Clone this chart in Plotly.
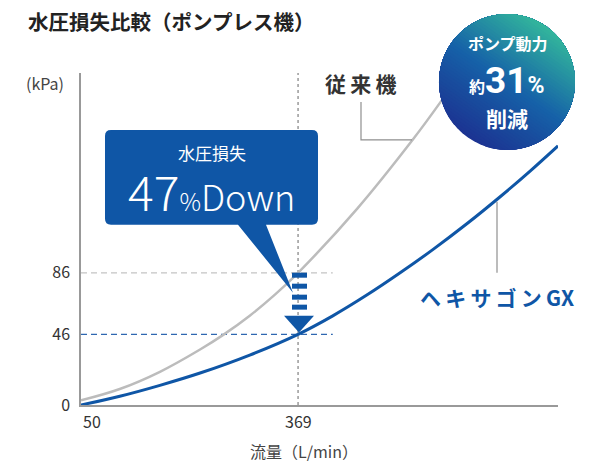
import math

import plotly.graph_objects as go

# flow (L/min) vs pressure loss (kPa)
FLOW_CONV = [50, 107, 166, 225, 259, 298, 335, 369, 456, 538, 578, 622]
LOSS_CONV = [3.0, 10.4, 21.6, 36.1, 45.6, 58.1, 71.8, 86.0, 127.8, 172.9, 196.9, 225.0]
FLOW_GX = [50, 107, 166, 225, 298, 369, 420, 470, 519, 567, 617, 666, 710, 751]
LOSS_GX = [0.0, 5.7, 12.8, 20.8, 32.5, 46.0, 58.0, 71.5, 86.0, 101.1, 117.9, 135.5, 152.2, 168.6]

X_TICKS = [50, 369]
Y_TICKS = [0, 46, 86]
RATED_FLOW = 369
LOSS_OLD = 86
LOSS_NEW = 46

BLUE = "#0f56a6"
GRAY = "#bcbcbc"
FONT = "Noto Sans CJK JP"

# plot area in pixels (600x470 canvas)
L, R, T, B = 81, 558, 73, 405.5


def px(x):
    return (x - L) / (R - L)


def py(y):
    return (B - y) / (B - T)


def path(points, close=True):
    # points: list of (cmd, [(x, y), ...]); L is repeated for every point
    parts = []
    for cmd, pts in points:
        if cmd == "Q":
            parts.append("Q " + " ".join(f"{px(a):.5f},{py(b):.5f}" for a, b in pts))
        else:
            for a, b in pts:
                parts.append(f"{cmd} {px(a):.5f},{py(b):.5f}")
    return " ".join(parts) + (" Z" if close else "")


fig = go.Figure()
fig.add_trace(go.Scatter(
    x=FLOW_CONV, y=LOSS_CONV, mode="lines",
    line=dict(color=GRAY, width=2.5, shape="spline"), hoverinfo="skip",
))
fig.add_trace(go.Scatter(
    x=FLOW_GX, y=LOSS_GX, mode="lines",
    line=dict(color=BLUE, width=3, shape="spline"), hoverinfo="skip",
))

shapes = []
shapes.append(dict(type="line", xref="x", yref="y", x0=RATED_FLOW, x1=RATED_FLOW, y0=0, y1=216,
                   line=dict(color="#9a9a9a", width=1.5, dash="dot"), layer="below"))
shapes.append(dict(type="line", xref="x", yref="y", x0=50, x1=420, y0=LOSS_OLD, y1=LOSS_OLD,
                   line=dict(color="#c4c4c4", width=1.3, dash="6px,4px"), layer="below"))
shapes.append(dict(type="line", xref="x", yref="y", x0=50, x1=420, y0=LOSS_NEW, y1=LOSS_NEW,
                   line=dict(color="#2f67b0", width=1.3, dash="6px,4px"), layer="below"))

# leader lines
shapes.append(dict(type="path", xref="paper", yref="paper",
                   path=path([("M", [(361, 102)]), ("L", [(361, 140), (412, 140)])], close=False),
                   line=dict(color="#8f8f8f", width=1.2)))
shapes.append(dict(type="path", xref="paper", yref="paper",
                   path=path([("M", [(497, 202)]), ("L", [(497, 273)])], close=False),
                   line=dict(color="#8f8f8f", width=1.2)))

# callout box with pointer
box = [
    ("M", [(111, 130)]), ("L", [(312, 130)]), ("Q", [(318, 130), (318, 136)]),
    ("L", [(318, 219)]), ("Q", [(318, 225), (312, 225)]),
    ("L", [(266, 225), (293, 293), (238, 225), (111, 225)]),
    ("Q", [(105, 225), (105, 219)]), ("L", [(105, 136)]), ("Q", [(105, 130), (111, 130)]),
]
shapes.append(dict(type="path", xref="paper", yref="paper", path=path(box),
                   fillcolor=BLUE, line=dict(width=0), layer="above"))

# striped down arrow
for y0, y1 in [(273, 278), (284, 289), (295, 300), (305, 310)]:
    shapes.append(dict(type="rect", xref="paper", yref="paper",
                       x0=px(292), x1=px(307), y0=py(y1), y1=py(y0),
                       fillcolor=BLUE, line=dict(width=0), layer="above"))
shapes.append(dict(type="path", xref="paper", yref="paper",
                   path=path([("M", [(284, 316)]), ("L", [(314, 316), (299, 333)])]),
                   fillcolor=BLUE, line=dict(width=0), layer="above"))

# gradient circle, built from stacked circular segments
cx, cy, r = 507, 82, 68
theta = math.radians(55)
stops = [(0.0, (28, 52, 146)), (0.5, (22, 98, 168)), (1.0, (50, 180, 156))]


def blend(f):
    for (f0, c0), (f1, c1) in zip(stops, stops[1:]):
        if f <= f1:
            k = (f - f0) / (f1 - f0)
            return "rgb({},{},{})".format(*[round(a + (b - a) * k) for a, b in zip(c0, c1)])
    return "rgb({},{},{})".format(*stops[-1][1])


n = 48
for k in range(n):
    t = -r + 2 * r * k / n
    alpha = math.acos(max(-1.0, min(1.0, t / r)))
    pts = []
    for j in range(61):
        phi = theta - alpha + 2 * alpha * j / 60
        pts.append((cx + r * math.cos(phi), cy - r * math.sin(phi)))
    shapes.append(dict(type="path", xref="paper", yref="paper",
                       path=path([("M", pts[:1]), ("L", pts[1:])]),
                       fillcolor=blend(k / (n - 1)), line=dict(width=0), layer="above"))

annotations = []


def text(x, y, s, size, color="#333", xanchor="center", yanchor="middle", bold=False,
         weight=None, family=FONT):
    font = dict(family=family, size=size, color=color)
    if weight:
        font["weight"] = weight
    annotations.append(dict(
        x=px(x), y=py(y), xref="paper", yref="paper", text=f"<b>{s}</b>" if bold else s,
        showarrow=False, xanchor=xanchor, yanchor=yanchor, font=font,
    ))


text(26, 21, "水圧損失比較（ポンプレス機）", 20.5, "#222", xanchor="left", bold=True)
text(24, 83, "(kPa)", 16, "#444", xanchor="left")
text(360, 83, "従\u2009来\u2009機", 21, "#333", bold=True)
text(497, 297, "ヘ\u2009キ\u2009サ\u2009ゴ\u2009ン\u2009GX", 21, BLUE, bold=True)
text(304, 452, "流量（L/min）", 16, "#444")
text(212, 153, "水圧損失", 17, "white")
text(211, 190,
     '<span style="font-size:48px">47</span><span style="font-size:24px">%</span>'
     '<span style="font-size:36px">Down</span>', 36, "white", weight=300)
text(508, 43, "ポンプ動力", 16, "white", bold=True)
text(507, 81,
     '<span style="font-family:Noto Sans CJK JP;font-size:16px">約</span>'
     '<span style="font-size:37px">31</span><span style="font-size:23px">%</span>',
     37, "white", bold=True, family="Roboto")
text(507, 118, "削減", 21, "white", bold=True)

for v in X_TICKS:
    annotations.append(dict(
        x=v, y=py(422), xref="x", yref="paper", text=str(v), showarrow=False,
        xanchor="left" if v == X_TICKS[0] else "center", yanchor="middle",
        font=dict(family=FONT, size=16, color="#333"),
    ))

fig.update_layout(
    width=600,
    height=470,
    margin=dict(l=L, r=600 - R, t=T, b=470 - B, pad=0),
    paper_bgcolor="white",
    plot_bgcolor="white",
    showlegend=False,
    shapes=shapes,
    annotations=annotations,
    font=dict(family=FONT),
    xaxis=dict(range=[50, 751], showline=True, linecolor="#999", linewidth=1.5,
               showgrid=False, zeroline=False, showticklabels=False, ticks=""),
    yaxis=dict(range=[0, 216], tickvals=Y_TICKS, showline=True, linecolor="#999", linewidth=1.5,
               showgrid=False, zeroline=False, ticks="", ticklabelstandoff=6,
               tickfont=dict(family=FONT, size=16, color="#333")),
)

fig.write_html("out.html", config={"displayModeBar": False},
               post_script="document.body.style.margin='0';")
